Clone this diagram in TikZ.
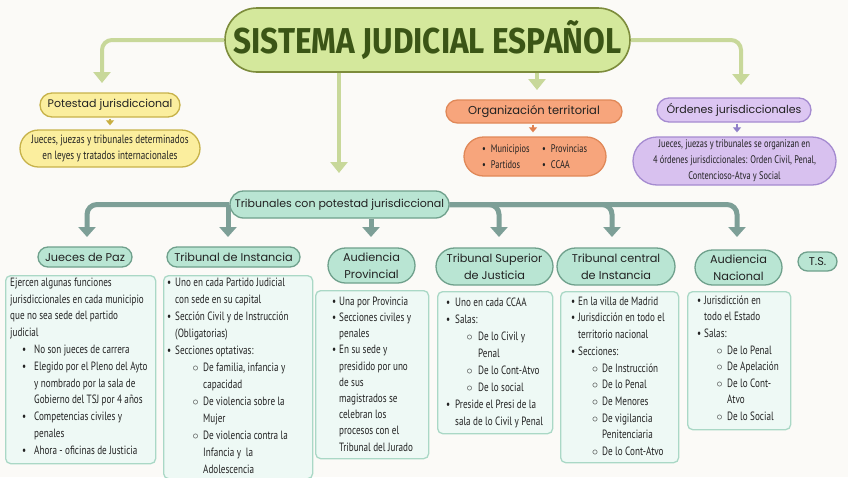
\documentclass[tikz,border=0pt]{standalone}
\usepackage{fontspec}
\usepackage{graphicx}
\usetikzlibrary{arrows.meta,shapes.misc,calc}
\setmainfont{PT Sans}
\newfontfamily\bodyf[FakeStretch=0.76]{PT Sans}
\newfontfamily\headf{Poppins}
\newfontfamily\titlef{Fira Sans}
\definecolor{bg}{HTML}{FBFAF7}
\definecolor{titlefill}{HTML}{D4E89C}
\definecolor{titledraw}{HTML}{7D8C3C}
\definecolor{titletext}{HTML}{3B5516}
\definecolor{gconn}{HTML}{C8D89A}
\definecolor{potfill}{HTML}{FBEE9E}
\definecolor{potdraw}{HTML}{C7B24A}
\definecolor{potarr}{HTML}{C8AE40}
\definecolor{orgfill}{HTML}{F7A57C}
\definecolor{orgdraw}{HTML}{E08858}
\definecolor{orgarr}{HTML}{E0804E}
\definecolor{ordfill}{HTML}{DCC6F2}
\definecolor{orddraw}{HTML}{A58BD0}
\definecolor{ordarr}{HTML}{8F80C8}
\definecolor{tribfill}{HTML}{B9E5D3}
\definecolor{tribdraw}{HTML}{6FA08C}
\definecolor{tconn}{HTML}{7D9F97}
\definecolor{cfill}{HTML}{EEF9F5}
\definecolor{cdraw}{HTML}{AAD8C6}
\definecolor{txt}{HTML}{222222}
\newcommand{\BL}[1]{\hspace*{\bi}\makebox[\bt][l]{\textbullet}#1}
\newcommand{\BC}[1]{\hspace*{\bi}\hspace*{\bt}#1}
\newcommand{\SL}[1]{\hspace*{\si}\makebox[\st][l]{$\circ$}#1}
\newcommand{\SC}[1]{\hspace*{\si}\hspace*{\st}#1}
\tikzset{
  pill/.style={rounded rectangle, line width=1.3pt, inner sep=0pt, text=txt},
  titlebox/.style={pill, fill=titlefill, draw=titledraw, line width=1.6pt},
  potbox/.style={pill, fill=potfill, draw=potdraw, font=\headf\fontsize{11}{12}\selectfont},
  potdbox/.style={pill, fill=potfill, draw=potdraw, align=center, font=\bodyf\fontsize{12}{16}\selectfont},
  orgbox/.style={pill, fill=orgfill, draw=orgdraw, font=\headf\fontsize{11.5}{12}\selectfont},
  orgdbox/.style={pill, fill=orgfill, draw=orgdraw},
  ordbox/.style={pill, fill=ordfill, draw=orddraw, font=\headf\fontsize{11}{12}\selectfont},
  orddbox/.style={pill, fill=ordfill!92!orddraw, draw=orddraw, align=center, font=\bodyf\fontsize{11}{16}\selectfont},
  tribbox/.style={pill, fill=tribfill, draw=tribdraw, font=\headf\fontsize{11}{12}\selectfont},
  headbox/.style={pill, fill=tribfill, draw=tribdraw, align=center, font=\headf\fontsize{11.3}{17}\selectfont},
  cbox/.style={draw=cdraw, fill=cfill, line width=1.3pt, rounded corners=5pt, inner sep=0pt, anchor=north west},
  btext/.style={inner sep=0pt, anchor=north west, align=left, text=txt},
  garr/.style={draw=gconn, line width=4pt, rounded corners=10pt, -{Triangle[width=17pt,length=11pt]}},
  tarr/.style={draw=tconn, line width=5pt, rounded corners=10pt, -{Triangle[width=17pt,length=10pt]}},
  sarr/.style={line width=1.6pt, -{Triangle[width=8pt,length=5pt]}, shorten >=4pt, shorten <=1pt},
}
\begin{document}
\begin{tikzpicture}[x=1pt,y=-1pt]
\fill[bg] (0,0) rectangle (848,477);
\useasboundingbox (0,0) rectangle (848,477);

% title
\node[titlebox, minimum width=405pt, minimum height=64pt] (title) at (427.5,40)
  {\color{titletext}\resizebox{388pt}{33pt}{\titlef\bfseries SISTEMA JUDICIAL ESPAÑOL}};

% top level boxes
\node[potbox, minimum width=140pt, minimum height=24pt] (pot) at (110,105) {Potestad jurisdiccional};
\node[potdbox, minimum width=180pt, minimum height=37pt] (potd) at (110,148.5)
  {Jueces, juezas y tribunales determinados\\en leyes y tratados internacionales};
\node[orgbox, minimum width=176pt, minimum height=23pt] (org) at (534,111.5) {Organización territorial};
\node[orgdbox, minimum width=142pt, minimum height=39pt] (orgd) at (535,156.5) {};
\node[btext, anchor=west, font=\bodyf\fontsize{11}{16}\selectfont] (orgt) at (482,157)
  {\makebox[60pt][l]{\textbullet\hspace{5pt}Municipios}\textbullet\hspace{5pt}Provincias\\
   \makebox[60pt][l]{\textbullet\hspace{5pt}Partidos}\textbullet\hspace{5pt}CCAA};
\node[ordbox, minimum width=154pt, minimum height=24pt] (ord) at (734,110) {Órdenes jurisdiccionales};
\node[orddbox, minimum width=203pt, minimum height=48pt] (ordd) at (734.5,161)
  {Jueces, juezas y tribunales se organizan en\\4 órdenes jurisdiccionales: Orden Civil, Penal,\\Contencioso-Atva y Social};
\node[tribbox, minimum width=219pt, minimum height=27pt] (trib) at (339.5,204.5) {Tribunales con potestad jurisdiccional};

% title connectors
\coordinate (c1) at (102,83);
\coordinate (c2) at (339,173);
\coordinate (c3) at (537,90);
\coordinate (c4) at (741,85);
\draw[garr] (title.west) -| (c1);
\draw[garr] (title.south -| c2) -- (c2);
\draw[garr] (title.south -| c3) -- (c3);
\draw[garr] (title.east) -| (c4);

% small arrows
\coordinate (x1) at (533,0);
\coordinate (x2) at (737,0);
\draw[sarr, potarr] (pot.south) -- (potd.north);
\draw[sarr, orgarr] (org.south -| x1) -- (orgd.north -| x1);
\draw[sarr, ordarr] (ord.south -| x2) -- (ordd.north -| x2);

% tribunal connectors
\coordinate (a1) at (87,237);
\coordinate (a2) at (228,237);
\coordinate (a3) at (371,237);
\coordinate (a4) at (499,237);
\coordinate (a5) at (612,237);
\coordinate (a6) at (737,237);
\draw[tarr] (trib.west) -| (a1);
\draw[tarr] (trib.west -| a2) -- (a2);
\draw[tarr] (trib.south -| a3) -- (a3);
\draw[tarr] (trib.east) -| (a4);
\draw[tarr] (trib.east) -| (a5);
\draw[tarr] (trib.east) -| (a6);

% headers
\node[headbox, minimum width=94pt, minimum height=20pt] (hJP) at (85,257) {Jueces de Paz};
\node[headbox, minimum width=133pt, minimum height=20pt] (hTI) at (233.5,257) {Tribunal de Instancia};
\node[headbox, minimum width=87pt, minimum height=35pt] (hAP) at (371.5,265.5) {Audiencia\\Provincial};
\node[headbox, minimum width=117pt, minimum height=37pt] (hTSJ) at (494.5,266.5) {Tribunal Superior\\de Justicia};
\node[headbox, minimum width=118pt, minimum height=37pt] (hTC) at (616,266.5) {Tribunal central\\de Instancia};
\node[headbox, minimum width=87pt, minimum height=35pt] (hAN) at (738.5,267.5) {Audiencia\\Nacional};
\node[headbox, minimum width=39pt, minimum height=19pt] (hTS) at (817.5,261.5) {T.S.};

% content boxes
\node[cbox, minimum width=150pt, minimum height=188pt] (bJP) at (5,275) {};
\node[cbox, minimum width=149pt, minimum height=203pt] (bTI) at (163,275) {};
\node[cbox, minimum width=113pt, minimum height=168pt] (bAP) at (315,290) {};
\node[cbox, minimum width=115pt, minimum height=142pt] (bTSJ) at (437,291) {};
\node[cbox, minimum width=118pt, minimum height=171pt] (bTC) at (560,291) {};
\node[cbox, minimum width=103pt, minimum height=138pt] (bAN) at (687,291) {};

% texts
\def\bi{12pt}\def\bt{12pt}\def\si{0pt}\def\st{0pt}
\node[btext, font=\bodyf\fontsize{12}{16.8}\selectfont] (tJP) at (10,277.5) {%
Ejercen algunas funciones\\
jurisdiccionales en cada municipio\\
que no sea sede del partido\\
judicial\\
\BL{No son jueces de carrera}\\
\BL{Elegido por el Pleno del Ayto}\\
\BC{y nombrado por la sala de}\\
\BC{Gobierno del TSJ por 4 años}\\
\BL{Competencias civiles y}\\
\BC{penales}\\
\BL{Ahora - oficinas de Justicia}};

\def\bi{0pt}\def\bt{8pt}\def\si{25.5pt}\def\st{10.5pt}
\node[btext, font=\bodyf\fontsize{12}{17}\selectfont] (tTI) at (167,277.5) {%
\BL{Uno en cada Partido Judicial}\\
\BC{con sede en su capital}\\
\BL{Sección Civil y de Instrucción}\\
\BC{(Obligatorias)}\\
\BL{Secciones optativas:}\\
\SL{De familia, infancia y}\\
\SC{capacidad}\\
\SL{De violencia sobre la}\\
\SC{Mujer}\\
\SL{De violencia contra la}\\
\SC{Infancia y\ \ la}\\
\SC{Adolescencia}};

\def\bi{0pt}\def\bt{7pt}
\node[btext, font=\bodyf\fontsize{12}{16.2}\selectfont] (tAP) at (332,296.5) {%
\BL{Una por Provincia}\\
\BL{Secciones civiles y}\\
\BC{penales}\\
\BL{En su sede y}\\
\BC{presidido por uno}\\
\BC{de sus}\\
\BC{magistrados se}\\
\BC{celebran los}\\
\BC{procesos con el}\\
\BC{Tribunal del Jurado}};

\def\bi{0pt}\def\bt{9pt}\def\si{20.5pt}\def\st{11.5pt}
\node[btext, font=\bodyf\fontsize{12}{17}\selectfont] (tTSJ) at (446,297.5) {%
\BL{Uno en cada CCAA}\\
\BL{Salas:}\\
\SL{De lo Civil y}\\
\SC{Penal}\\
\SL{De lo Cont-Atvo}\\
\SL{De lo social}\\
\BL{Preside el Presi de la}\\
\BC{sala de lo Civil y Penal}};

\def\bi{0pt}\def\bt{7pt}\def\si{21pt}\def\st{10pt}
\node[btext, font=\bodyf\fontsize{12}{16.7}\selectfont] (tTC) at (571,296.5) {%
\BL{En la villa de Madrid}\\
\BL{Jurisdicción en todo el}\\
\BC{territorio nacional}\\
\BL{Secciones:}\\
\SL{De Instrucción}\\
\SL{De lo Penal}\\
\SL{De Menores}\\
\SL{De vigilancia}\\
\SC{Penitenciaria}\\
\SL{De lo Cont-Atvo}};

\def\bi{0pt}\def\bt{7pt}\def\si{19.5pt}\def\st{10.5pt}
\node[btext, font=\bodyf\fontsize{12}{16.6}\selectfont] (tAN) at (697,295.5) {%
\BL{Jurisdicción en}\\
\BC{todo el Estado}\\
\BL{Salas:}\\
\SL{De lo Penal}\\
\SL{De Apelación}\\
\SL{De lo Cont-}\\
\SC{Atvo}\\
\SL{De lo Social}};
\end{tikzpicture}
\end{document}
